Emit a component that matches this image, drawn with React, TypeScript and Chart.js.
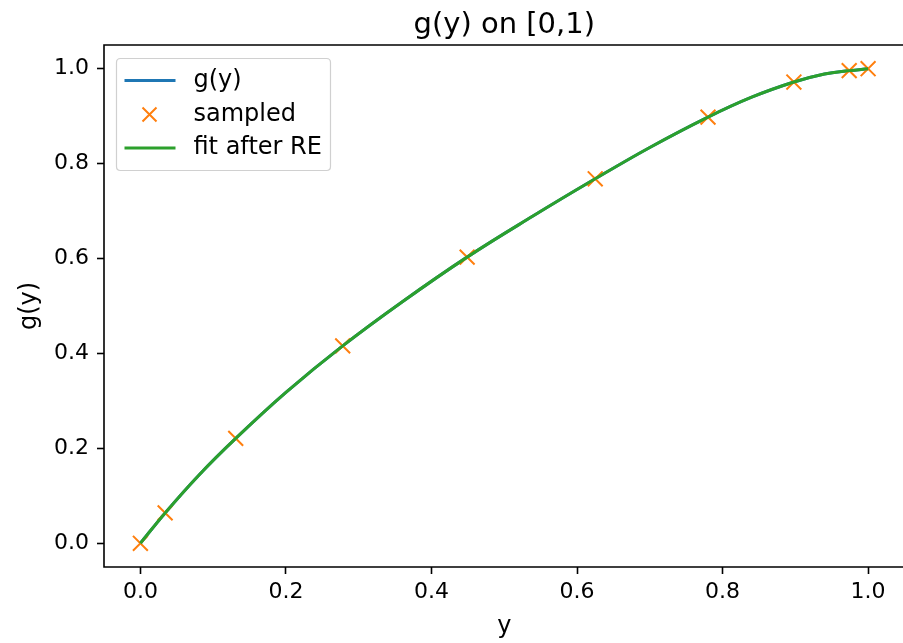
import { useEffect, useRef } from "react";
import { Chart, registerables } from "chart.js";

Chart.register(...registerables);

const FONT = "'DejaVu Sans', sans-serif";

const TITLE = "g(y) on [0,1)";

// g(y) curve
const curveX = [0, 0.034, 0.08, 0.131, 0.2, 0.278, 0.36, 0.449, 0.54, 0.625, 0.7, 0.78, 0.84, 0.898, 0.94, 0.974, 1.0];
const curveG = [0, 0.064, 0.143, 0.221, 0.318, 0.416, 0.509, 0.603, 0.69, 0.768, 0.834, 0.898, 0.94, 0.972, 0.989, 0.996, 1.0];

// sampled points
const sampleX = [0, 0.034, 0.131, 0.278, 0.449, 0.625, 0.78, 0.898, 0.974, 1.0];
const sampleG = [0, 0.064, 0.221, 0.416, 0.603, 0.768, 0.898, 0.972, 0.996, 1.0];

// fit after RE (coincides with g(y))
const fitX = curveX;
const fitG = curveG;

const xTicks = [0, 0.2, 0.4, 0.6, 0.8, 1.0];
const yTicks = [0, 0.2, 0.4, 0.6, 0.8, 1.0];

const BLUE = "#1f77b4";
const ORANGE = "#ff7f0e";
const GREEN = "#2ca02c";

const framePlugin = {
  id: "frameLegend",
  afterDraw(chart: any) {
    const { ctx, chartArea } = chart;
    const { left, top, right, bottom } = chartArea;
    ctx.save();
    ctx.strokeStyle = "#000";
    ctx.lineWidth = 1.6;
    ctx.beginPath();
    ctx.moveTo(right, top);
    ctx.lineTo(left, top);
    ctx.lineTo(left, bottom);
    ctx.lineTo(right, bottom);
    ctx.stroke();

    // title
    ctx.fillStyle = "#000";
    ctx.font = `29px ${FONT}`;
    ctx.textAlign = "center";
    ctx.textBaseline = "alphabetic";
    ctx.fillText(TITLE, (left + right) / 2, top - 12);

    // legend box
    const bx = left + 12.5;
    const by = top + 13.5;
    const bw = 214;
    const bh = 112;
    const r = 4;
    ctx.beginPath();
    ctx.moveTo(bx + r, by);
    ctx.lineTo(bx + bw - r, by);
    ctx.quadraticCurveTo(bx + bw, by, bx + bw, by + r);
    ctx.lineTo(bx + bw, by + bh - r);
    ctx.quadraticCurveTo(bx + bw, by + bh, bx + bw - r, by + bh);
    ctx.lineTo(bx + r, by + bh);
    ctx.quadraticCurveTo(bx, by + bh, bx, by + bh - r);
    ctx.lineTo(bx, by + r);
    ctx.quadraticCurveTo(bx, by, bx + r, by);
    ctx.closePath();
    ctx.fillStyle = "rgba(255,255,255,0.8)";
    ctx.fill();
    ctx.strokeStyle = "#d0d0d0";
    ctx.lineWidth = 1.2;
    ctx.stroke();

    const ds = chart.data.datasets;
    const rowY = [by + 22, by + 56, by + 89.5];
    ctx.font = `24px ${FONT}`;
    ctx.textBaseline = "middle";
    ctx.textAlign = "left";
    ds.forEach((d: any, i: number) => {
      const y = rowY[i];
      if (d.showLine === false) {
        const cx = bx + 33;
        const s = 7;
        ctx.strokeStyle = d.borderColor;
        ctx.lineWidth = 2;
        ctx.beginPath();
        ctx.moveTo(cx - s, y - s);
        ctx.lineTo(cx + s, y + s);
        ctx.moveTo(cx - s, y + s);
        ctx.lineTo(cx + s, y - s);
        ctx.stroke();
      } else {
        ctx.strokeStyle = d.borderColor;
        ctx.lineWidth = 3;
        ctx.beginPath();
        ctx.moveTo(bx + 8, y);
        ctx.lineTo(bx + 59, y);
        ctx.stroke();
      }
      ctx.fillStyle = "#000";
      ctx.fillText(d.label, bx + 77, y);
    });
    ctx.restore();
  },
};

export default function App() {
  const ref = useRef<HTMLCanvasElement | null>(null);

  useEffect(() => {
    document.body.style.margin = "0";
    if (!ref.current) return;
    const chart = new Chart(ref.current, {
      type: "line",
      data: {
        datasets: [
          {
            label: "g(y)",
            data: curveX.map((x, i) => ({ x, y: curveG[i] })),
            borderColor: BLUE,
            backgroundColor: BLUE,
            borderWidth: 3,
            pointRadius: 0,
            tension: 0.4,
            order: 3,
          },
          {
            label: "sampled",
            data: sampleX.map((x, i) => ({ x, y: sampleG[i] })),
            showLine: false,
            borderColor: ORANGE,
            backgroundColor: ORANGE,
            pointStyle: "crossRot",
            pointRadius: 10.5,
            pointBorderWidth: 2,
            pointBorderColor: ORANGE,
            order: 2,
          },
          {
            label: "fit after RE",
            data: fitX.map((x, i) => ({ x, y: fitG[i] })),
            borderColor: GREEN,
            backgroundColor: GREEN,
            borderWidth: 3,
            pointRadius: 0,
            tension: 0.4,
            order: 1,
          },
        ],
      },
      options: {
        animation: false,
        responsive: false,
        devicePixelRatio: 1,
        layout: { padding: { left: 0, right: 0, top: 45, bottom: 0 } },
        plugins: {
          legend: { display: false },
          tooltip: { enabled: false },
          title: { display: false },
        },
        scales: {
          x: {
            type: "linear",
            min: -0.05,
            max: 1.05,
            afterBuildTicks: (s: any) => {
              s.ticks = xTicks.map((v) => ({ value: v }));
            },
            afterFit: (s: any) => {
              s.height = 76;
            },
            ticks: {
              callback: (v: any) => Number(v).toFixed(1),
              color: "#000",
              font: { family: FONT, size: 22 },
              padding: 5,
              maxRotation: 0,
              autoSkip: false,
            },
            grid: {
              drawOnChartArea: false,
              drawTicks: true,
              tickLength: 7,
              tickColor: "#000",
              tickWidth: 1.6,
            },
            border: { display: false },
            title: {
              display: true,
              text: "y",
              color: "#000",
              font: { family: FONT, size: 24 },
              padding: { top: 0, bottom: 2 },
            },
          },
          y: {
            type: "linear",
            min: -0.05,
            max: 1.05,
            afterBuildTicks: (s: any) => {
              s.ticks = yTicks.map((v) => ({ value: v }));
            },
            afterFit: (s: any) => {
              s.width = 104;
            },
            ticks: {
              callback: (v: any) => Number(v).toFixed(1),
              color: "#000",
              font: { family: FONT, size: 22 },
              padding: 8,
              autoSkip: false,
            },
            grid: {
              drawOnChartArea: false,
              drawTicks: true,
              tickLength: 7,
              tickColor: "#000",
              tickWidth: 1.6,
            },
            border: { display: false },
            title: {
              display: true,
              text: "g(y)",
              color: "#000",
              font: { family: FONT, size: 24 },
              padding: { top: 15, bottom: 0 },
            },
          },
        },
      },
      plugins: [framePlugin],
    });
    return () => chart.destroy();
  }, []);

  return (
    <div style={{ position: "fixed", left: 0, top: 0, width: 903, height: 643, overflow: "hidden", background: "#fff" }}>
      <canvas ref={ref} width={917} height={643} style={{ width: 917, height: 643, display: "block" }} />
    </div>
  );
}
